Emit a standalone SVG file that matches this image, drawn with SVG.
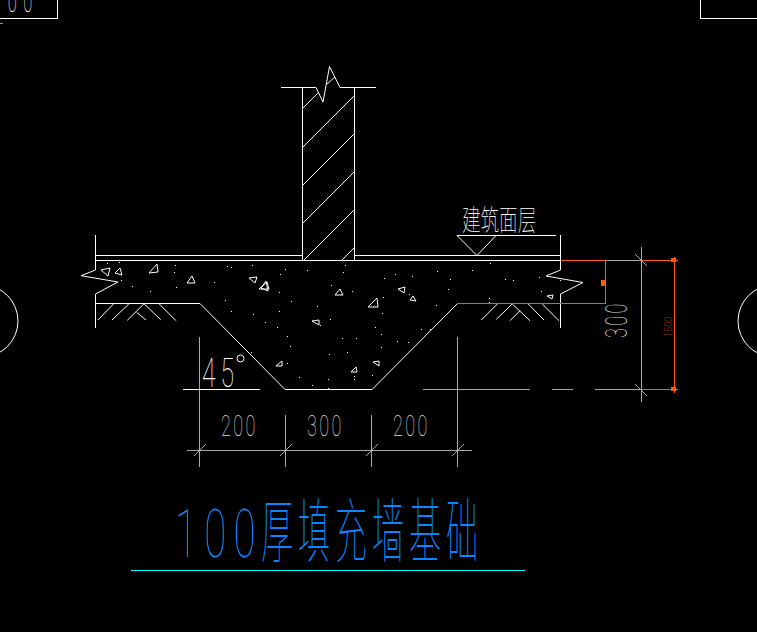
<svg xmlns="http://www.w3.org/2000/svg" width="757" height="632" viewBox="0 0 757 632">
<style>
.w{fill:none;stroke:#fff;stroke-width:1;shape-rendering:crispEdges}
.a{fill:none;stroke:#fff;stroke-width:1}
.g{fill:none;stroke:#aaa;stroke-width:1;shape-rendering:crispEdges}
.gs{fill:none;stroke:#aaa;stroke-width:1}
.o{fill:none;stroke:#ff5a0a;stroke-width:1;shape-rendering:crispEdges}
.t{font-family:Roboto,"Liberation Sans",sans-serif;font-weight:100}
.c{font-family:"Noto Sans CJK SC",sans-serif;font-weight:100}
.tri{fill:none;stroke:#fff;stroke-width:1}
</style>
<rect width="757" height="632" fill="#000"/>
<g id="frames">
<path class="w" d="M0 18.5H57.500V0M700.500 0V18.500H757"/>
<text class="t" transform="translate(-8,12) scale(.55,1)" font-size="30" fill="#fff" letter-spacing="12">100</text>
<path d="M0 23.5H3" stroke="#0f0" fill="none"/>
<circle class="a" cx="-18" cy="321" r="36"/>
<circle class="a" cx="774" cy="321" r="36"/>
</g>
<g id="wall">
<path class="w" d="M302.500 87V260M354.500 87V260"/>
<path class="a" d="M281 87.500H316L323 102L329.500 66.500L340 87.500H376"/>
<path class="a" stroke-width=".8" d="M303 108L318 93M303 147L354 96M303 185L354 134M303 223L354 172M304 260L354 210M342 260L354 248M327 84L335 77"/>
</g>
<g id="slab">
<path class="w" d="M96 255.500H302M355 255.500H561M96 260.500H561"/>
<path class="a" d="M95.500 235V270L81 275.700L118 282L95.500 294V328M95.500 303.500H200L285 389.500H372L457.500 303.500"/>
<path class="a" d="M560.500 235V270L546 276L583 282.500L560.500 294V328"/>
<path class="a" d="M98 320L113.700 303.700M112 320L129 303.700M127.300 320.300L144 303.700L160.700 319.700M159 303.700L176 320.700M136.700 312.300L146 320M481.300 320L497.300 304M496.300 319.300L512.300 304L530 320.700M528.300 304L544 320M542.300 304L559 320.700M510 320.700L520 310.700"/>
</g>
<g id="aggregate">
<path class="tri" d="M101 270L110 268L108 276ZM115 273L120 268L122 275ZM149 273L157 264L158 272ZM187 283L192 276L195 283ZM249 278L257 277L255 283ZM259 289L267 282L269 289ZM261 288L266 281L268 291ZM335 295L340 289L343 295ZM368 307L377 298L378 307ZM312 321L319 320L319 325ZM276 366L282 361L282 366ZM351 372L356 367L357 372ZM373 362L379 361L379 366ZM398 289L405 287L404 293ZM410 300L413 296L416 301ZM547 296L553 295L552 299Z"/>
<path d="M107 263.500h1M119 262.500h1M175 265.500h1M174 272.500h1M227 266.500h1M231 267.500h1M252 265.500h1M285 269.500h1M280 274.500h1M307 270.500h1M343 272.500h1M345 265.500h1M214 282.500h1M132 286.500h1M150 291.500h1M176 287.500h1M121 280.500h1M279 292.500h1M331 285.500h1M352 291.500h1M291 301.500h1M225 300.500h1M317 306.500h1M231 311.500h1M279 311.500h1M253 314.500h1M265 322.500h1M330 319.500h1M277 327.500h1M320 325.500h1M375 327.500h1M287 336.500h1M342 338.500h1M356 338.500h1M290 346.500h1M329 354.500h1M347 352.500h1M251 352.500h1M231 335.500h1M287 363.500h1M299 377.500h1M328 379.500h1M312 385.500h1M328 388.500h1M354 376.500h1M354 379.500h1M372 375.500h1M490 263.500h1M437 271.500h1M472 270.500h1M395 274.500h1M384 278.500h1M412 276.500h1M450 279.500h1M448 289.500h1M505 279.500h1M513 280.500h1M539 277.500h1M560 280.500h1M541 291.500h1M489 298.500h1M489 302.500h1M409 294.500h1M383 297.500h1M436 305.500h1M382 313.500h1M421 329.500h1M381 334.500h1M397 341.500h1M408 342.500h1M381 347.500h1M430 329.500h1" stroke="#fff" fill="none"/>
</g>
<g id="dimensions">
<path class="g" d="M199.500 337V467M285.500 415V467M371.500 415V467M457.500 337V467M187 450.500H472M423 389.500H530M552 389.500H573M595 389.500H641M641.500 247V402M605 260.500H641"/>
<path class="gs" d="M194 456L206 444M280 456L292 444M366 456L378 444M452 456L464 444M635 254L647 266M635 384L647 396"/>
<path class="o" d="M561 260.500H605M605.500 260V303.500H457M642 260.500H678M642 389.500H678M674.500 257V393"/>
<path d="M601 280h5v6h-5zM671 258h5v4h-5zM671 387h5v4h-5z" fill="#ff5a0a"/>
<text class="t" transform="translate(221,436) scale(.6,1)" font-size="30" fill="#ddd" letter-spacing="4">200</text>
<text class="t" transform="translate(307,436) scale(.6,1)" font-size="30" fill="#ddd" letter-spacing="4">300</text>
<text class="t" transform="translate(393,436) scale(.6,1)" font-size="30" fill="#ddd" letter-spacing="4">200</text>
<text class="t" transform="translate(627,338) rotate(-90) scale(.6,1.05)" font-size="30" fill="#ddd" letter-spacing="4">300</text>
<text class="t" transform="translate(672,337) rotate(-90) scale(.85,1)" font-size="11" fill="#ff5a0a" font-weight="400">1500</text>
</g>
<g id="angle">
<path class="w" d="M183 389.500H260"/>
<text class="t" transform="translate(202,387) scale(.62,1)" font-size="40" fill="#fff" letter-spacing="8">45</text>
<circle class="a" cx="240.500" cy="358.500" r="3.500"/>
</g>
<g id="finish-label">
<path class="a" d="M457 235.500H556M457 235.500L477 255.500L496 235.500"/>
<text class="c" transform="translate(462,231) scale(.64,1)" font-size="29" fill="#fff">建筑面层</text>
</g>
<g id="title">
<text class="t" transform="translate(175,557) scale(.6,1)" font-size="67" fill="#0a84ff" letter-spacing="12">100</text>
<text class="c" transform="translate(261,557) scale(.46,1)" font-size="70" fill="#0a84ff" letter-spacing="10.400">厚填充墙基础</text>
<path d="M131 570.500H525" stroke="#0ff" fill="none" shape-rendering="crispEdges"/>
</g>
</svg>
